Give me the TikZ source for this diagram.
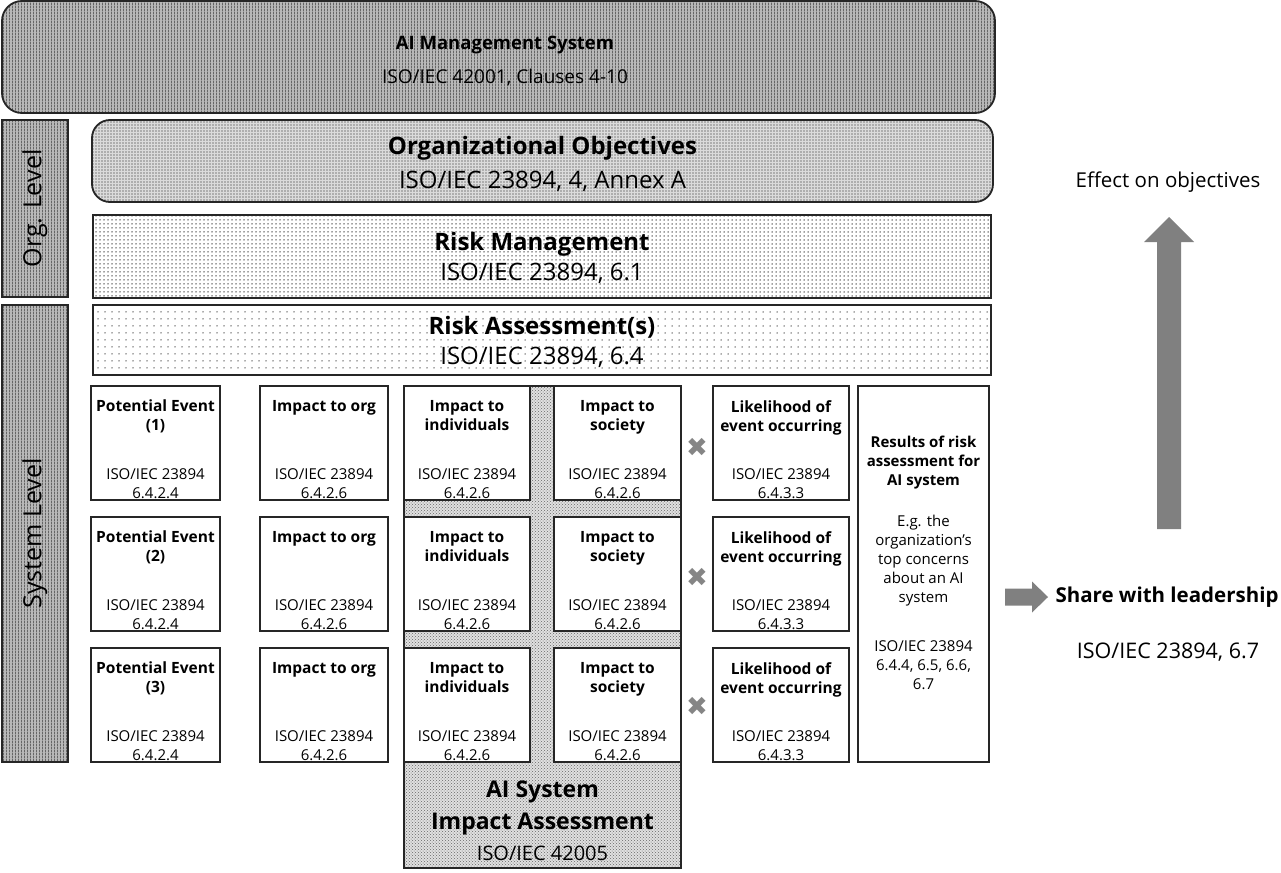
\documentclass[tikz,border=0pt]{standalone}
\usepackage{fontspec}
\setmainfont{Open Sans}
\usetikzlibrary{patterns}
\newfontfamily\symf{DejaVu Sans}
\newcommand\fsz[2]{\fontsize{#1}{#2}\selectfont}
\pgfdeclarepatternformonly{vstripe}{\pgfqpoint{0pt}{0pt}}{\pgfqpoint{3pt}{3pt}}{\pgfqpoint{3pt}{3pt}}{%
  \pgfpathrectangle{\pgfqpoint{0pt}{0pt}}{\pgfqpoint{1.2pt}{3pt}}\pgfusepath{fill}}
\pgfdeclarepatternformonly{griddots}{\pgfqpoint{-1pt}{-1pt}}{\pgfqpoint{1pt}{1pt}}{\pgfqpoint{3pt}{3pt}}{%
  \pgfpathcircle{\pgfqpoint{0pt}{0pt}}{0.8pt}\pgfusepath{fill}}
\pgfdeclarepatternformonly{finedots}{\pgfqpoint{-1pt}{-1pt}}{\pgfqpoint{1pt}{1pt}}{\pgfqpoint{4pt}{4pt}}{%
  \pgfpathcircle{\pgfqpoint{0pt}{0pt}}{0.75pt}\pgfusepath{fill}}
\pgfdeclarepatternformonly{sparsedots}{\pgfqpoint{-1pt}{-1pt}}{\pgfqpoint{1pt}{1pt}}{\pgfqpoint{7pt}{7pt}}{%
  \pgfpathcircle{\pgfqpoint{0pt}{0pt}}{0.75pt}\pgfusepath{fill}}
\begin{document}
\begin{tikzpicture}[x=1pt,y=-1pt,
  frame/.style={draw=black!85, line width=1.8pt, inner sep=0pt, outer sep=0pt, align=center},
  stripes/.style={preaction={fill=black!28}, pattern=vstripe, pattern color=black!60},
  objfill/.style={preaction={fill=black!14}, pattern=griddots, pattern color=black!50},
  mgmtfill/.style={preaction={fill=white}, pattern=finedots, pattern color=black!75},
  assessfill/.style={preaction={fill=white}, pattern=sparsedots, pattern color=black!65},
  aifill/.style={preaction={fill=black!12}, pattern=crosshatch dots, pattern color=black!60},
  bigtext/.style={font=\fsz{24}{34}, align=center, inner sep=0pt},
  sbox/.style={frame, fill=white},
  stitle/.style={font=\bfseries\fsz{15.5}{19}, align=center, inner sep=0pt},
  siso/.style={font=\fsz{15}{19}, align=center, inner sep=0pt},
  xmark/.style={font=\symf\fsz{26}{26}, text=black!48, inner sep=0pt},
  arrowgray/.style={fill=black!50},
  sidetext/.style={font=\fsz{20.5}{22}, inner sep=0pt}
]
\useasboundingbox (0,0) rectangle (1281,872);

% top
\node[frame, stripes, rounded corners=20pt, minimum width=993, minimum height=112] (aims) at (498.5,57) {};
\node[bigtext, font=\fsz{19}{34}] (aimst) at (505,61) {\textbf{\fsz{18.5}{34}AI Management System}\\ISO/IEC 42001, Clauses 4-10};

% level bars
\node[frame, stripes, minimum width=66, minimum height=177] (orglvl) at (35,208.5) {};
\node[rotate=90, font=\fsz{25}{25}, inner sep=0pt] (orglvlt) at (orglvl) {Org. Level};
\node[frame, stripes, minimum width=66, minimum height=457] (syslvl) at (35,533.5) {};
\node[rotate=90, font=\fsz{25}{25}, inner sep=0pt] (syslvlt) at (syslvl) {System Level};

% org level boxes
\node[frame, objfill, rounded corners=18pt, minimum width=901, minimum height=82] (obj) at (542.5,161) {};
\node[bigtext] (objt) at (542.5,164) {\textbf{Organizational Objectives}\\ISO/IEC 23894, 4, Annex A};
\node[frame, mgmtfill, minimum width=898, minimum height=83] (rm) at (542,256.5) {};
\node[bigtext, font=\fsz{24}{30}] (rmt) at (542,258) {\textbf{Risk Management}\\ISO/IEC 23894, 6.1};
\node[frame, assessfill, minimum width=898, minimum height=70] (ra) at (542,340) {};
\node[bigtext, font=\fsz{24}{30}] (rat) at (542,342) {\textbf{Risk Assessment(s)}\\ISO/IEC 23894, 6.4};

% AI system impact assessment background
\node[frame, aifill, minimum width=277, minimum height=482] (aisia) at (542.5,627) {};
\node[align=center, inner sep=0pt, font=\bfseries\fsz{23}{31.5}] (aisiat) at (542.5,821)
  {AI System\\Impact Assessment\\{\mdseries\fsz{20}{31.5}ISO/IEC 42005}};

% rows of small boxes
\foreach \r/\cy in {1/443,2/574,3/705}{
  \node[sbox, minimum width=129, minimum height=114] (ev\r) at (155.5,\cy) {};
  \node[stitle, anchor=north] (evt\r) at ([yshift=-14pt]ev\r.north) {Potential Event\\(\r)};
  \node[siso, anchor=south] (evi\r) at ([yshift=1pt]ev\r.south) {ISO/IEC 23894\\6.4.2.4};
  \node[sbox, minimum width=128, minimum height=114] (org\r) at (324,\cy) {};
  \node[stitle, anchor=north] (orgt\r) at ([yshift=-14pt]org\r.north) {Impact to org};
  \node[siso, anchor=south] (orgi\r) at ([yshift=1pt]org\r.south) {ISO/IEC 23894\\6.4.2.6};
  \node[sbox, minimum width=126, minimum height=114] (ind\r) at (467,\cy) {};
  \node[stitle, anchor=north] (indt\r) at ([yshift=-14pt]ind\r.north) {Impact to\\individuals};
  \node[siso, anchor=south] (indi\r) at ([yshift=1pt]ind\r.south) {ISO/IEC 23894\\6.4.2.6};
  \node[sbox, minimum width=127, minimum height=114] (soc\r) at (617.5,\cy) {};
  \node[stitle, anchor=north] (soct\r) at ([yshift=-14pt]soc\r.north) {Impact to\\society};
  \node[siso, anchor=south] (soci\r) at ([yshift=1pt]soc\r.south) {ISO/IEC 23894\\6.4.2.6};
  \node[sbox, minimum width=136, minimum height=114] (lik\r) at (781,\cy) {};
  \node[stitle, anchor=north] (likt\r) at ([yshift=-14pt]lik\r.north) {Likelihood of\\event occurring};
  \node[siso, anchor=south] (liki\r) at ([yshift=1pt]lik\r.south) {ISO/IEC 23894\\6.4.3.3};
}
\node[xmark] (x1) at (697,447) {✖};
\node[xmark] (x2) at (697,577) {✖};
\node[xmark] (x3) at (697,706) {✖};

% results
\node[sbox, minimum width=131, minimum height=376] (res) at (923.5,574) {};
\node[siso, anchor=north] (rest) at (923.5,436)
  {\bfseries Results of risk\\\bfseries assessment for\\\bfseries AI system\\[22pt]
   E.g. the\\organization’s\\top concerns\\about an AI\\system\\[30pt]
   ISO/IEC 23894\\6.4.4, 6.5, 6.6,\\6.7};

% right side
\node[sidetext] (eff) at (1168,182) {Effect on objectives};
\node[sidetext, font=\bfseries\fsz{20.5}{22}] (share) at (1167,597) {Share with leadership};
\node[sidetext, font=\fsz{21.5}{22}] (shareiso) at (1168,652) {ISO/IEC 23894,\ 6.7};

\coordinate (upbot) at (1169,529);
\coordinate (uptop) at (1169,217);
\fill[arrowgray] (1157,529) -- (1157,242) -- (1144,242) -- (uptop) -- (1194,242) -- (1181,242) -- (1181,529) -- cycle;
\coordinate (rstart) at (1005,597);
\coordinate (rtip) at (1048,597);
\fill[arrowgray] (rstart) ++(0,-8.5) -- (1032,588.5) -- (1032,581.5) -- (rtip) -- (1032,612.5) -- (1032,605.5) -- (1005,605.5) -- cycle;
\end{tikzpicture}
\end{document}
